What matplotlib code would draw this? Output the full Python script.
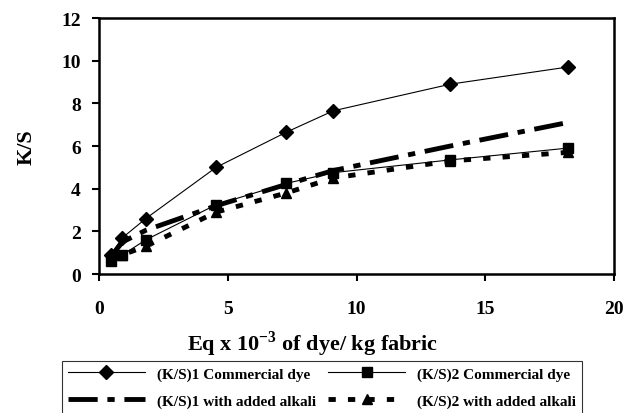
import matplotlib
matplotlib.use('Agg')
import matplotlib.pyplot as plt

# concentration of dye, Eq x 10^-3 / kg fabric
conc = [0.45, 0.91, 1.82, 4.55, 7.28, 9.1, 13.65, 18.2]

ks1_commercial = [0.9, 1.7, 2.6, 5.0, 6.65, 7.65, 8.9, 9.7]
ks2_commercial = [0.6, 0.9, 1.6, 3.25, 4.25, 4.75, 5.35, 5.9]
ks1_alkali = [0.8, 1.5, 2.05, 3.2, 4.2, 4.85, 6.0, 7.1]
ks2_alkali = [0.7, 0.9, 1.3, 2.9, 3.8, 4.5, 5.3, 5.7]

labels = ['(K/S)1 Commercial dye', '(K/S)2 Commercial dye',
          '(K/S)1 with added alkali', '(K/S)2 with added alkali']

plt.rcParams['font.family'] = ['Liberation Serif', 'DejaVu Serif']
plt.rcParams['font.weight'] = 'bold'
plt.rcParams['mathtext.fontset'] = 'custom'
plt.rcParams['mathtext.rm'] = 'Liberation Serif:bold'
plt.rcParams['mathtext.bf'] = 'Liberation Serif:bold'

fig = plt.figure(figsize=(6.26, 4.14), dpi=100)
ax = fig.add_axes([99 / 626, 139 / 414, 515 / 626, 256 / 414])

h1, = ax.plot(conc, ks1_commercial, color='black', lw=0.8, marker='D', ms=7)
h2, = ax.plot(conc, ks2_commercial, color='black', lw=0.8, marker='s', ms=7)
h3, = ax.plot(conc, ks1_alkali, color='black', lw=3.5, dashes=(6, 2, 1.5, 2))
h4, = ax.plot(conc, ks2_alkali, color='black', lw=3.5, dashes=(1.5, 2.5),
              marker='^', ms=7)

ax.set_xlim(0, 20)
ax.set_ylim(0, 12)
ax.set_xticks([0, 5, 10, 15, 20])
ax.set_yticks([0, 2, 4, 6, 8, 10, 12])
ax.tick_params(direction='out', length=5, width=1.5, labelsize=14, pad=14)
ax.tick_params(axis='y', pad=8)
for s in ax.spines.values():
    s.set_linewidth(1.8)

ax.set_ylabel('K/S', fontsize=16, fontweight='bold', labelpad=18)
fig.text(313 / 626, 1 - 344 / 414, r'Eq x 10$^{\mathbf{-3}}$ of dye/ kg fabric',
         ha='center', va='center', fontsize=16, fontweight='bold')

# column-wise fill -> rows: K/S1 | K/S2
leg = fig.legend([h1, h3, h2, h4], [labels[0], labels[2], labels[1], labels[3]],
                 ncol=2, loc='upper left',
                 bbox_to_anchor=(62 / 626, -0.2, 520 / 626, 0.2 + 1 - 362 / 414),
                 mode='expand', fontsize=11, frameon=True, fancybox=False,
                 edgecolor='black', handlelength=5, borderaxespad=0,
                 labelspacing=0.85, columnspacing=1.0, borderpad=0.4)
leg.get_frame().set_linewidth(0.8)

fig.savefig('out.png', dpi=100)
